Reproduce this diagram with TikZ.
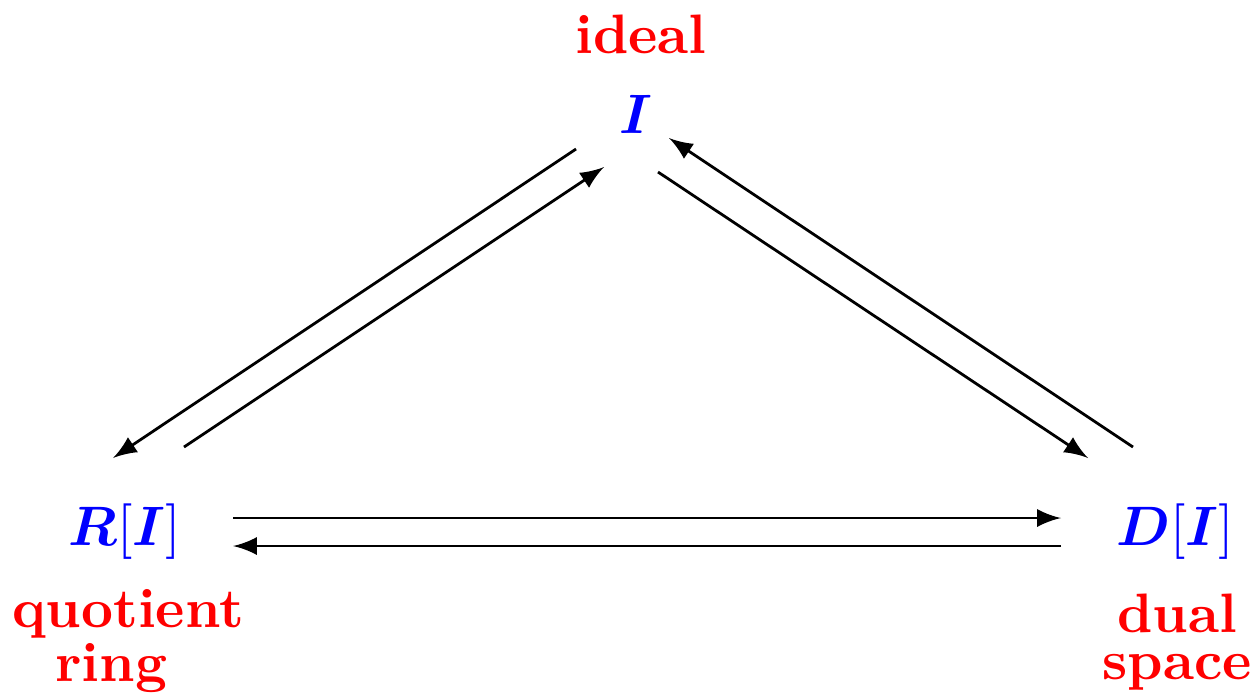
\documentclass[tikz,border=0pt]{standalone}
\usepackage{amsmath,amssymb}
\usepackage{tikz}
\tikzset{
  obj/.style={text=blue,inner sep=0pt},
  lbl/.style={text=red,font=\bfseries\fontsize{10}{8.5}\selectfont,align=center,inner sep=0pt},
}
\begin{document}
\begin{tikzpicture}[x=.18pt,y=-.18pt,line width=.5pt,>=latex]
\useasboundingbox (0,0) rectangle (1260,696);
\node[obj] (I) at (636,114) {$\boldsymbol{I}$};
\node[obj] (R) at (125,532) {$\boldsymbol{R}[\boldsymbol{I}]$};
\node[obj] (D) at (1175,532) {$\boldsymbol{D}[\boldsymbol{I}]$};
\node[lbl] (ideal) at (641,34) {ideal};
\node[lbl] (quot) at (128,641) {quotient\\ring\hspace*{6pt}};
\node[lbl] (dual) at (1177,642) {dual\\space};
\draw[->] ([shift={(-60,35)}]I.center) -- ([shift={(-12,-74)}]R.center);
\draw[->] ([shift={(59,-85)}]R.center) -- ([shift={(-32,53)}]I.center);
\draw[->] ([shift={(-42,-85)}]D.center) -- ([shift={(33,24)}]I.center);
\draw[->] ([shift={(22,58)}]I.center) -- ([shift={(-87,-74)}]D.center);
\draw[->] ([shift={(108,-14)}]R.center) -- ([shift={(-114,-14)}]D.center);
\draw[->] ([shift={(-114,14)}]D.center) -- ([shift={(108,14)}]R.center);
\end{tikzpicture}
\end{document}
